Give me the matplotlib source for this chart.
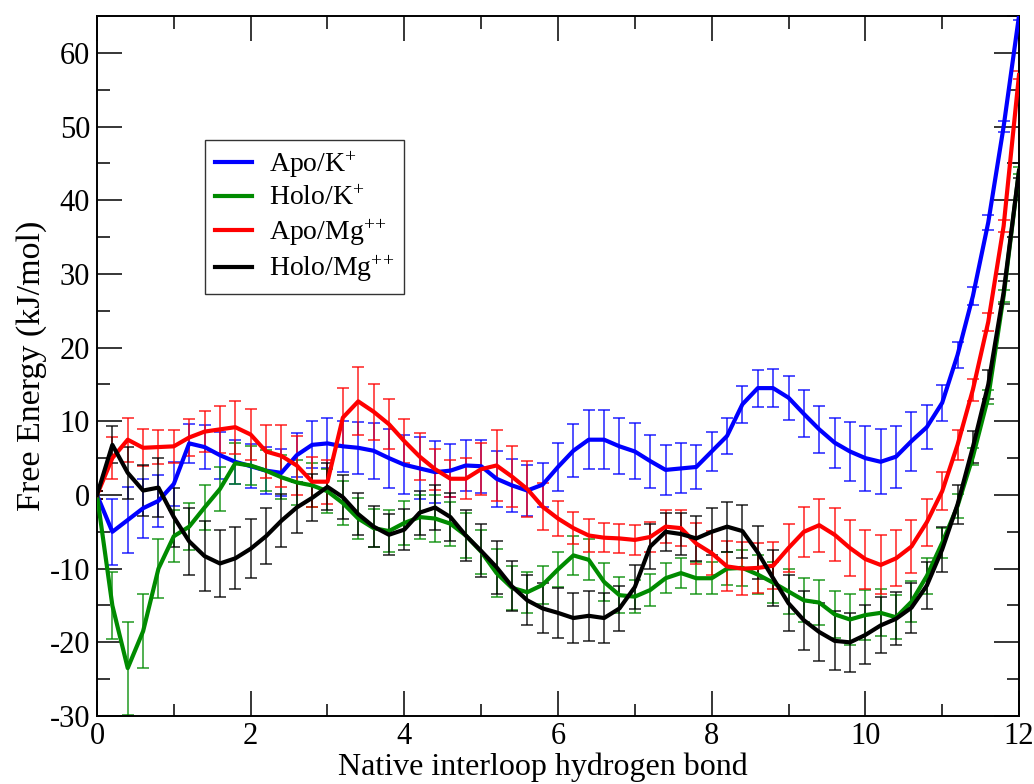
import numpy as np
import matplotlib
matplotlib.use("Agg")
import matplotlib.pyplot as plt
from matplotlib.ticker import MultipleLocator

plt.rcParams['font.family'] = ['Liberation Serif', 'DejaVu Serif']
plt.rcParams['mathtext.fontset'] = 'custom'
plt.rcParams['mathtext.rm'] = 'Liberation Serif'
plt.rcParams['mathtext.default'] = 'regular'
plt.rcParams['axes.unicode_minus'] = False

# x grid: number of native interloop hydrogen bonds (sampled every 0.2)
hbonds = np.linspace(0, 12, 61)

apo_k = [0.0, -5.0, -3.4, -1.8, -0.8, 1.5, 7.0, 6.5, 5.4, 4.5,
         3.9, 3.3, 3.0, 5.4, 6.8, 7.0, 6.6, 6.4, 6.0, 5.0,
         4.1, 3.6, 3.1, 3.3, 4.0, 3.9, 2.2, 1.3, 0.6, 1.4,
         3.8, 6.0, 7.5, 7.5, 6.6, 5.9, 4.6, 3.4, 3.6, 3.8,
         5.9, 8.0, 12.3, 14.5, 14.5, 13.2, 11.0, 8.9, 7.1, 5.9,
         5.0, 4.5, 5.2, 7.3, 9.2, 12.5, 19.0, 27.0, 37.0, 50.0,
         65.0]
apo_k_err = [0.5, 4.5, 4.5, 4.0, 3.5, 3.0, 2.6, 3.0, 3.2, 3.0,
             3.0, 3.2, 3.2, 3.0, 3.2, 3.4, 3.5, 3.5, 3.8, 4.0,
             4.0, 4.2, 4.2, 3.6, 3.5, 3.6, 3.8, 3.6, 3.4, 3.0,
             3.2, 3.6, 4.0, 4.0, 3.8, 3.8, 3.6, 3.4, 3.4, 3.0,
             2.6, 2.4, 2.5, 2.5, 2.6, 3.0, 3.2, 3.2, 3.4, 4.0,
             4.4, 4.4, 4.2, 4.0, 3.0, 2.4, 1.8, 1.2, 1.0, 0.8,
             0.5]

holo_k = [0.0, -15.0, -23.5, -18.5, -10.0, -5.6, -4.3, -1.7, 0.8, 4.3,
          4.0, 3.3, 2.4, 1.7, 1.3, 0.5, -1.1, -3.2, -4.5, -4.9,
          -3.8, -3.0, -3.2, -3.9, -5.5, -7.7, -10.6, -12.6, -13.2, -12.2,
          -10.1, -8.2, -8.8, -11.8, -13.6, -13.8, -12.9, -11.3, -10.6, -11.3,
          -11.3, -10.0, -9.9, -10.8, -11.9, -13.1, -14.3, -14.6, -16.2, -16.9,
          -16.3, -16.0, -16.6, -14.5, -11.0, -6.5, -1.5, 5.2, 13.3, 27.0,
          44.0]
holo_k_err = [0.5, 4.5, 6.3, 5.0, 4.0, 3.5, 3.2, 3.0, 3.0, 2.8,
              2.6, 2.8, 3.0, 3.0, 3.0, 3.0, 3.0, 2.8, 2.6, 2.8,
              3.0, 3.0, 3.2, 3.0, 3.0, 3.0, 3.2, 3.0, 2.8, 2.6,
              2.4, 2.6, 2.8, 2.6, 2.4, 2.2, 2.2, 2.0, 2.0, 2.2,
              2.2, 2.2, 2.4, 2.6, 2.8, 3.0, 3.0, 3.0, 3.2, 3.4,
              3.4, 3.2, 3.0, 2.8, 2.4, 2.0, 1.6, 1.2, 1.0, 0.8,
              0.5]

apo_mg = [0.0, 5.0, 7.5, 6.4, 6.5, 6.6, 7.8, 8.6, 8.9, 9.2,
          8.2, 5.9, 5.3, 4.0, 1.8, 1.8, 10.5, 12.7, 11.3, 9.6,
          7.3, 5.2, 3.5, 2.2, 2.2, 3.5, 4.0, 2.5, 0.8, -1.6,
          -3.2, -4.5, -5.5, -5.8, -5.9, -6.1, -5.7, -4.3, -4.5, -6.6,
          -7.9, -9.7, -10.0, -9.9, -9.6, -7.2, -5.0, -4.1, -5.4, -7.2,
          -8.7, -9.5, -8.6, -7.0, -3.7, 0.5, 6.8, 14.3, 23.5, 36.5,
          57.0]
apo_mg_err = [0.5, 2.8, 3.0, 2.5, 2.3, 2.2, 2.5, 2.8, 3.2, 3.6,
              3.4, 3.6, 4.2, 4.0, 3.4, 3.0, 4.0, 4.6, 3.8, 3.4,
              3.0, 3.2, 2.8, 2.5, 2.8, 3.5, 4.8, 4.2, 3.8, 3.2,
              2.4, 2.2, 2.2, 2.0, 2.0, 2.0, 2.0, 2.2, 2.4, 2.8,
              3.0, 3.4, 3.6, 3.4, 3.2, 3.2, 3.4, 3.6, 3.6, 3.8,
              4.0, 4.0, 3.8, 3.6, 3.2, 2.6, 2.0, 1.5, 1.2, 0.8,
              0.5]

holo_mg = [0.0, 6.8, 3.0, 0.6, 1.0, -3.0, -6.3, -8.3, -9.3, -8.6,
           -7.3, -5.6, -3.5, -1.7, -0.4, 1.1, -0.3, -2.6, -4.3, -5.4,
           -4.7, -2.4, -1.7, -3.0, -5.5, -7.6, -9.8, -12.4, -14.3, -15.4,
           -16.0, -16.7, -16.4, -16.7, -15.4, -12.5, -7.0, -5.0, -5.3, -5.9,
           -5.0, -4.3, -4.9, -7.8, -11.3, -14.7, -17.0, -18.6, -19.8, -20.0,
           -19.0, -17.7, -16.8, -15.3, -12.3, -7.4, -1.3, 6.5, 15.0, 27.5,
           44.0]
holo_mg_err = [0.5, 2.5, 3.5, 3.5, 4.0, 4.0, 4.5, 4.7, 4.5, 4.2,
               4.0, 3.8, 3.6, 3.4, 3.2, 3.2, 3.0, 2.8, 2.8, 2.8,
               2.8, 3.0, 3.0, 3.2, 3.4, 3.6, 3.6, 3.4, 3.4, 3.4,
               3.4, 3.4, 3.4, 3.4, 3.0, 3.0, 3.0, 2.6, 2.8, 3.0,
               3.2, 3.4, 3.6, 3.6, 3.8, 3.8, 4.0, 4.0, 4.0, 4.0,
               4.0, 3.8, 3.6, 3.4, 3.2, 3.0, 2.6, 2.2, 2.0, 1.6,
               1.0]

labels = [r'Apo/K$^{+}$', r'Holo/K$^{+}$', r'Apo/Mg$^{+\!+}$', r'Holo/Mg$^{+\!+}$']
colors = ['#0000ff', '#008b00', '#ff0000', '#000000']
series = [apo_k, holo_k, apo_mg, holo_mg]
errors = [apo_k_err, holo_k_err, apo_mg_err, holo_mg_err]

fig = plt.figure(figsize=(10.34, 7.84), dpi=100)
ax = fig.add_axes([0.0938, 0.0867, 0.8917, 0.8929])

for y, e, c in zip(series, errors, colors):
    ax.errorbar(hbonds, y, yerr=e, fmt='none', ecolor=c, elinewidth=1.2,
                capsize=4.5, capthick=1.2, alpha=0.8, zorder=2)

handles = []
for y, c, lab in zip(series, colors, labels):
    h, = ax.plot(hbonds, y, color=c, lw=3.0, zorder=3, label=lab,
                 solid_joinstyle='round')
    handles.append(h)

ax.set_xlim(0, 12)
ax.set_ylim(-30, 65)
ax.xaxis.set_major_locator(MultipleLocator(2))
ax.xaxis.set_minor_locator(MultipleLocator(1))
ax.yaxis.set_major_locator(MultipleLocator(10))
ax.yaxis.set_minor_locator(MultipleLocator(5))
ax.tick_params(which='both', direction='in', top=True, right=True,
               labelsize=22, width=1.1, color='black')
ax.tick_params(which='major', length=18)
ax.tick_params(which='minor', length=9)
ax.tick_params(axis='y', which='major', pad=5)
ax.tick_params(axis='x', which='major', pad=4)
for s in ax.spines.values():
    s.set_linewidth(1.4)

ax.set_xlabel('Native interloop hydrogen bond', fontsize=23)
ax.xaxis.set_label_coords(0.4837, -0.052)
ax.set_ylabel('Free Energy (kJ/mol)', fontsize=24.5, labelpad=2)

leg = ax.legend(handles=handles, loc='upper left', bbox_to_anchor=(0.117, 0.823),
                borderaxespad=0, fontsize=20, frameon=True, fancybox=False,
                edgecolor='black', handlelength=1.35, handletextpad=0.6,
                labelspacing=0.22, borderpad=0.35)
leg.get_frame().set_linewidth(1.0)
for lh in leg.get_lines():
    lh.set_linewidth(3.0)

fig.savefig('out.png', dpi=100)
